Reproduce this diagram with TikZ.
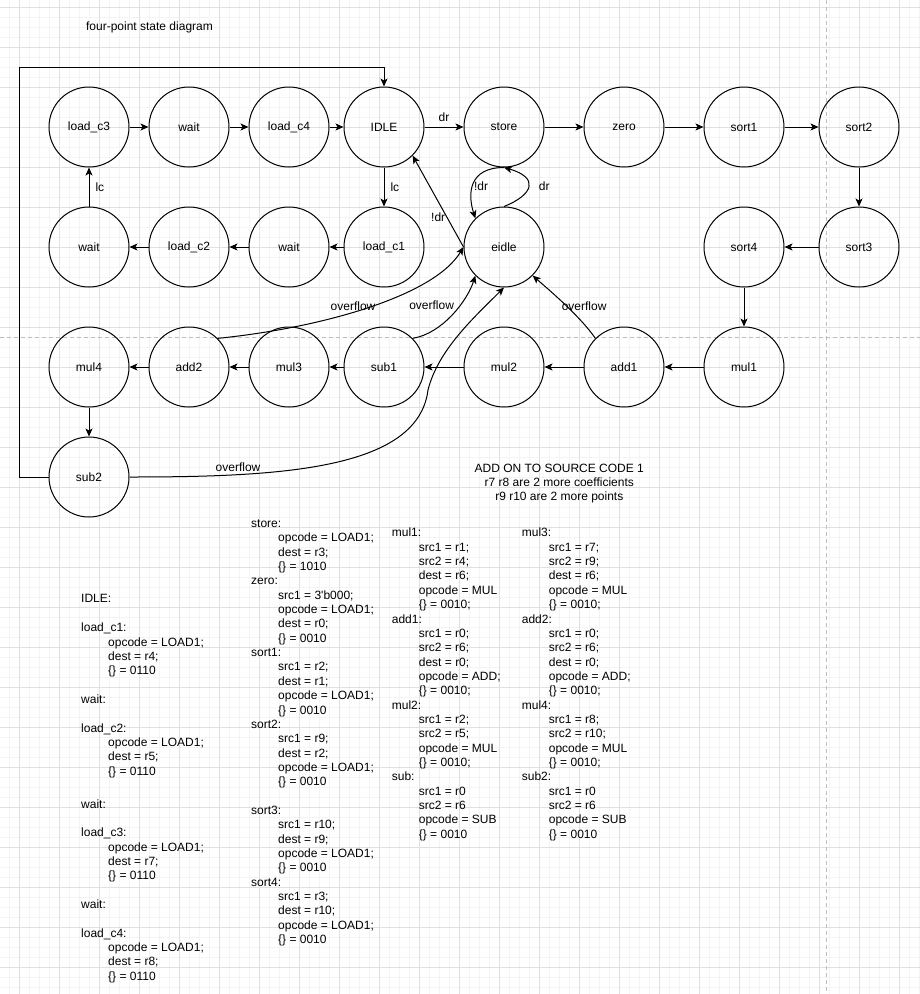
\documentclass[tikz,border=0pt]{standalone}
\usepackage{fontspec}
\setmainfont{Liberation Sans}
\usetikzlibrary{arrows.meta}
\definecolor{gridmajor}{RGB}{224,224,224}
\definecolor{gridminor}{RGB}{244,244,244}
\definecolor{pagebreak}{RGB}{190,190,190}
\newcommand{\ind}{\hspace*{27pt}}

\begin{document}
\begin{tikzpicture}[
    x=1pt, y=-1pt,
    state/.style={circle, draw=black, line width=1pt, minimum size=80pt, inner sep=0pt,
                  font=\fontsize{12}{14.35}\selectfont},
    edge/.style={line width=1pt, -{Stealth[length=8pt, width=7pt, inset=2pt]}},
    lbl/.style={inner sep=1pt, font=\fontsize{12}{14.35}\selectfont},
    code/.style={anchor=north west, inner sep=0pt, align=left, font=\fontsize{12}{14.35}\selectfont}
]
    % Background grid
    \fill[white] (0,0) rectangle (920,994);
    \useasboundingbox (0,0) rectangle (920,994);
    \foreach \gx in {9,19,...,919} \draw[gridminor, line width=1pt] (\gx,0) -- (\gx,994);
    \foreach \gy in {7,17,...,987} \draw[gridminor, line width=1pt] (0,\gy) -- (920,\gy);
    \foreach \gx in {19,59,...,899} \draw[gridmajor, line width=1pt] (\gx,0) -- (\gx,994);
    \foreach \gy in {7,47,...,967} \draw[gridmajor, line width=1pt] (0,\gy) -- (920,\gy);
    \draw[pagebreak, line width=1pt, dash pattern=on 4pt off 3pt] (826.5,0) -- (826.5,994);
    \draw[pagebreak, line width=1pt, dash pattern=on 4pt off 3pt] (0,337) -- (920,337);

    % Title
    \node[lbl] (title) at (149.5,27) {four-point state diagram};

    % Top row
    \node[state] (loadc3) at (89,127) {load\_c3};
    \node[state] (waita) at (189,127) {wait};
    \node[state] (loadc4) at (289,127) {load\_c4};
    \node[state] (idle) at (384,127) {IDLE};
    \node[state] (store) at (504,127) {store};
    \node[state] (zero) at (624,127) {zero};
    \node[state] (sort1) at (744,127) {sort1};
    \node[state] (sort2) at (859,127) {sort2};

    % Second row
    \node[state] (waitc) at (89,247) {wait};
    \node[state] (loadc2) at (189,247) {load\_c2};
    \node[state] (waitb) at (289,247) {wait};
    \node[state] (loadc1) at (384,247) {load\_c1};
    \node[state] (eidle) at (504,247) {eidle};
    \node[state] (sort4) at (744,247) {sort4};
    \node[state] (sort3) at (859,247) {sort3};

    % Third row
    \node[state] (mul4) at (89,367) {mul4};
    \node[state] (add2) at (189,367) {add2};
    \node[state] (mul3) at (289,367) {mul3};
    \node[state] (sub1) at (384,367) {sub1};
    \node[state] (mul2) at (504,367) {mul2};
    \node[state] (add1) at (624,367) {add1};
    \node[state] (mul1) at (744,367) {mul1};
    \node[state] (sub2) at (89,477) {sub2};

    % Arrows
    \draw[edge] (loadc3) -- (waita);
    \draw[edge] (waita) -- (loadc4);
    \draw[edge] (loadc4) -- (idle);
    \draw[edge] (idle) -- node[lbl, above=4pt] {dr} (store);
    \draw[edge] (store) -- (zero);
    \draw[edge] (zero) -- (sort1);
    \draw[edge] (sort1) -- (sort2);
    \draw[edge] (sort2) -- (sort3);
    \draw[edge] (sort3) -- (sort4);
    \draw[edge] (sort4) -- (mul1);
    \draw[edge] (mul1) -- (add1);
    \draw[edge] (add1) -- (mul2);
    \draw[edge] (mul2) -- (sub1);
    \draw[edge] (sub1) -- (mul3);
    \draw[edge] (mul3) -- (add2);
    \draw[edge] (add2) -- (mul4);
    \draw[edge] (mul4) -- (sub2);
    \draw[edge] (idle) -- node[lbl, right=5pt] {lc} (loadc1);
    \draw[edge] (loadc1) -- (waitb);
    \draw[edge] (waitb) -- (loadc2);
    \draw[edge] (loadc2) -- (waitc);
    \draw[edge] (waitc) -- node[lbl, right=5pt] {lc} (loadc3);

    % Loop back to IDLE
    \coordinate (loopcorner) at (19,67);
    \draw[edge] (sub2.west) -| (loopcorner) -| (idle.north);

    % eidle transitions
    \draw[edge] (eidle.west) -- (idle.-45) node[lbl, pos=0.33, left] {!dr};
    \draw[edge] (store.south) .. controls +(-35,0) and +(-8,-25) .. (eidle.135)
        node[lbl, pos=0.55, right] {!dr};
    \draw[edge] (eidle.north) .. controls +(30,-12) and +(35,10) .. (store.south)
        node[lbl, pos=0.5, right=9pt] {dr};

    % Overflow
    \draw[edge] (add2.45) .. controls +(100,-10) and +(-30,50) .. (eidle.west)
        node[lbl, pos=0.45, above] {overflow};
    \draw[edge] (sub1.45) .. controls +(30,-5) and +(-8,25) .. (eidle.225)
        node[lbl, pos=0.55, above left] {overflow};
    \draw[edge] (add1.135) .. controls +(-15,-22) and +(15,13) .. (eidle.-45)
        node[lbl, pos=0.4, xshift=13pt, yshift=4pt] {overflow};
    \coordinate (sub2bend) at (428,390);
    \draw[edge] (sub2.east) .. controls +(150,0) and +(-10,80) .. (sub2bend)
        node[lbl, pos=0.25, above=2pt] {overflow}
        .. controls +(10,-40) and +(-30,30) .. (eidle.south);

    % Notes
    \node[lbl, align=center] (note) at (559.3,483.5) {ADD ON TO SOURCE CODE 1\\r7 r8 are 2 more coefficients\\r9 r10 are 2 more points};

    \node[code] (idlecode) at (81,594.5) {IDLE:\\[14.35pt]
        load\_c1:\\
        \ind opcode = LOAD1;\\
        \ind dest = r4;\\
        \ind \{\} = 0110\\[14.35pt]
        wait:\\[14.35pt]
        load\_c2:\\
        \ind opcode = LOAD1;\\
        \ind dest = r5;\\
        \ind \{\} = 0110\\[18.5pt]
        wait:\\[14.35pt]
        load\_c3:\\
        \ind opcode = LOAD1;\\
        \ind dest = r7;\\
        \ind \{\} = 0110\\[14.35pt]
        wait:\\[14.35pt]
        load\_c4:\\
        \ind opcode = LOAD1;\\
        \ind dest = r8;\\
        \ind \{\} = 0110};

    \node[code] (storecode) at (251,519.5) {store:\\
        \ind opcode = LOAD1;\\
        \ind dest = r3;\\
        \ind \{\} = 1010\\
        zero:\\
        \ind src1 = 3\textquotesingle b000;\\
        \ind opcode = LOAD1;\\
        \ind dest = r0;\\
        \ind \{\} = 0010\\
        sort1:\\
        \ind src1 = r2;\\
        \ind dest = r1;\\
        \ind opcode = LOAD1;\\
        \ind \{\} = 0010\\
        sort2:\\
        \ind src1 = r9;\\
        \ind dest = r2;\\
        \ind opcode = LOAD1;\\
        \ind \{\} = 0010\\[14.35pt]
        sort3:\\
        \ind src1 = r10;\\
        \ind dest = r9;\\
        \ind opcode = LOAD1;\\
        \ind \{\} = 0010\\
        sort4:\\
        \ind src1 = r3;\\
        \ind dest = r10;\\
        \ind opcode = LOAD1;\\
        \ind \{\} = 0010};

    \node[code] (mulcode) at (391.7,528) {mul1:\\
        \ind src1 = r1;\\
        \ind src2 = r4;\\
        \ind dest = r6;\\
        \ind opcode = MUL\\
        \ind \{\} = 0010;\\
        add1:\\
        \ind src1 = r0;\\
        \ind src2 = r6;\\
        \ind dest = r0;\\
        \ind opcode = ADD;\\
        \ind \{\} = 0010;\\
        mul2:\\
        \ind src1 = r2;\\
        \ind src2 = r5;\\
        \ind opcode = MUL\\
        \ind \{\} = 0010;\\
        sub:\\
        \ind src1 = r0\\
        \ind src2 = r6\\
        \ind opcode = SUB\\
        \ind \{\} = 0010};

    \node[code] (mulcodeb) at (521.7,528) {mul3:\\
        \ind src1 = r7;\\
        \ind src2 = r9;\\
        \ind dest = r6;\\
        \ind opcode = MUL\\
        \ind \{\} = 0010;\\
        add2:\\
        \ind src1 = r0;\\
        \ind src2 = r6;\\
        \ind dest = r0;\\
        \ind opcode = ADD;\\
        \ind \{\} = 0010;\\
        mul4:\\
        \ind src1 = r8;\\
        \ind src2 = r10;\\
        \ind opcode = MUL\\
        \ind \{\} = 0010;\\
        sub2:\\
        \ind src1 = r0\\
        \ind src2 = r6\\
        \ind opcode = SUB\\
        \ind \{\} = 0010};
\end{tikzpicture}
\end{document}
